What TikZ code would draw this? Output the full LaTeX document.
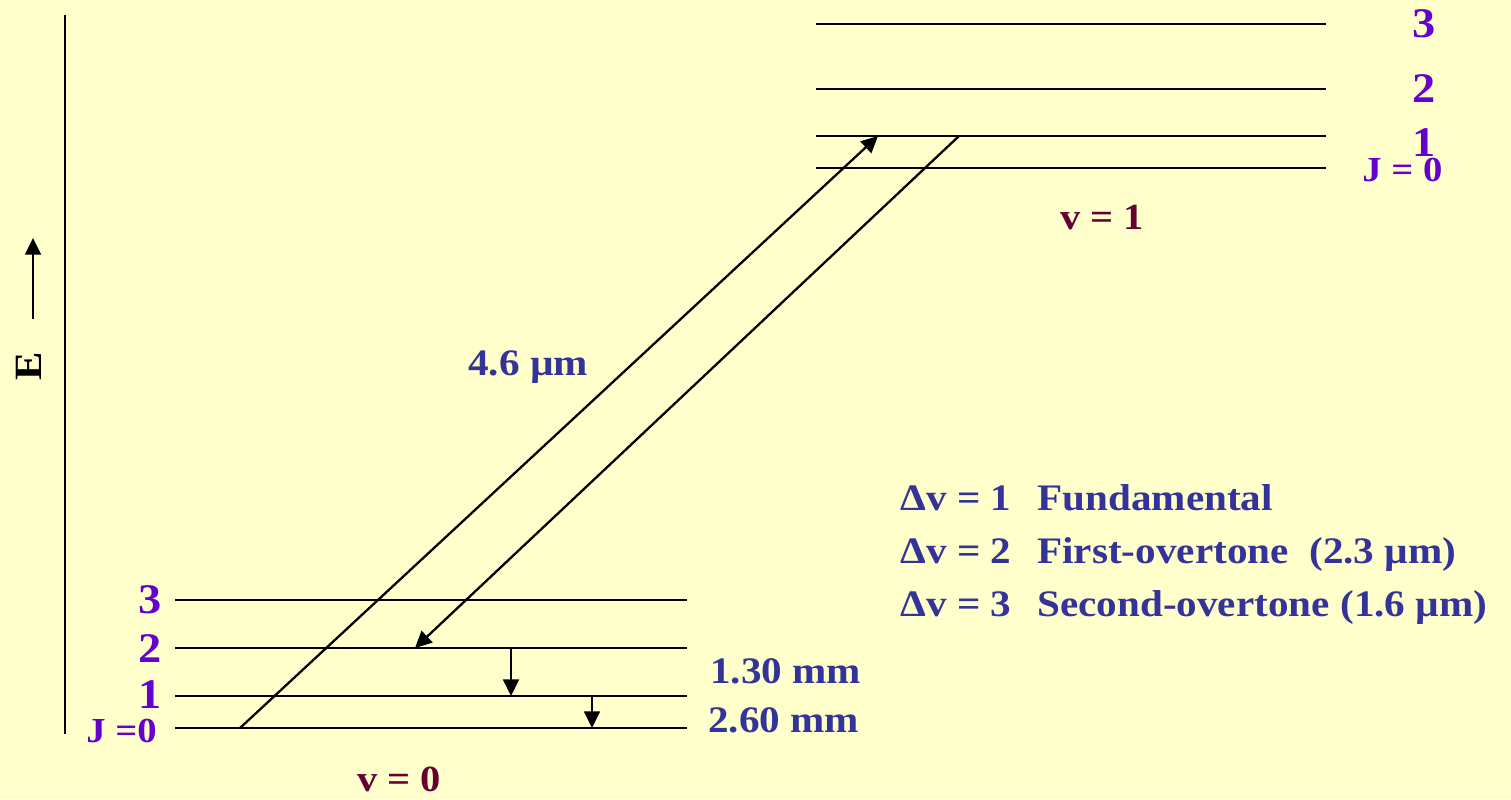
\documentclass[tikz,border=0pt]{standalone}
\usepackage{fontspec}
\setmainfont{Liberation Serif}[FakeStretch=1.1]
\usepackage{tikz}
\usetikzlibrary{arrows.meta}
\definecolor{bgc}{HTML}{FFFFCC}
\definecolor{jcol}{HTML}{6600CC}
\definecolor{wcol}{HTML}{333399}
\definecolor{vcol}{HTML}{660033}
\tikzset{
  lvl/.style={line width=1.3pt},
  arr/.style={-{Triangle[length=9.5pt,width=9pt]},line width=1.3pt},
  jn/.style={text=jcol,font=\bfseries\fontsize{24}{24}\selectfont,inner sep=0pt},
  jz/.style={text=jcol,font=\bfseries\fontsize{20}{20}\selectfont,inner sep=0pt},
  wl/.style={text=wcol,font=\bfseries\fontsize{21.3}{21.3}\selectfont,inner sep=0pt},
  vl/.style={text=vcol,font=\bfseries\fontsize{21}{21}\selectfont,inner sep=0pt},
}

\begin{document}
\begin{tikzpicture}[x=0.02cm,y=-0.02cm]
  \fill[bgc] (0,0) rectangle (1511,799);
  \useasboundingbox (0,0) rectangle (1511,799);
  % energy axis
  \draw[line width=1.3pt] (65,15) -- (65,734);
  \coordinate (eb) at (33,319);
  \coordinate (et) at (33,238);
  \draw[arr] (eb) -- (et);
  \node[font=\bfseries\fontsize{22}{22}\selectfont,rotate=90,inner sep=0pt] (en) at (29,366) {E};
  % v = 1 levels
  \draw[lvl] (816,24) -- (1326,24);
  \draw[lvl] (816,89) -- (1326,89);
  \draw[lvl] (816,136) -- (1326,136);
  \draw[lvl] (816,168) -- (1326,168);
  \node[jn,anchor=base] (u3) at (1424,37) {3};
  \node[jn,anchor=base] (u2) at (1424,102) {2};
  \node[jn,anchor=base] (u1) at (1424,156) {1};
  \node[jz,anchor=base west] (u0) at (1362,181) {J = 0};
  \node[vl,anchor=base] (v1) at (1102,229) {v = 1};
  % v = 0 levels
  \draw[lvl] (175,600) -- (687,600);
  \draw[lvl] (175,648) -- (687,648);
  \draw[lvl] (175,696) -- (687,696);
  \draw[lvl] (175,728) -- (687,728);
  \node[jn,anchor=base east] (l3) at (162,613) {3};
  \node[jn,anchor=base east] (l2) at (162,662) {2};
  \node[jn,anchor=base east] (l1) at (162,708) {1};
  \node[jz,anchor=base east] (l0) at (157,742) {J =0};
  \node[vl,anchor=base] (v0) at (399,791) {v = 0};
  % transitions
  \coordinate (a0) at (240,728);
  \coordinate (a1) at (878,136);
  \coordinate (e1) at (959,136);
  \coordinate (e0) at (415,648);
  \coordinate (r2) at (511,648);
  \coordinate (r1) at (511,696);
  \coordinate (s1) at (592,696);
  \coordinate (s0) at (592,728);
  \draw[arr] (a0) -- (a1);
  \draw[arr] (e1) -- (e0);
  \draw[arr] (r2) -- (r1);
  \draw[arr] (s1) -- (s0);
  \node[wl,anchor=base west] (ir) at (468,375) {4.6 µm};
  \node[wl,anchor=base west] (m1) at (710,683) {1.30 mm};
  \node[wl,anchor=base west] (m2) at (708,732) {2.60 mm};
  % overtone list
  \node[wl,anchor=base west] (d1) at (900,510) {\makebox[2.74cm][l]{Δv = 1}Fundamental};
  \node[wl,anchor=base west] (d2) at (900,563) {\makebox[2.74cm][l]{Δv = 2}First-overtone\ \ (2.3 µm)};
  \node[wl,anchor=base west] (d3) at (900,616) {\makebox[2.74cm][l]{Δv = 3}Second-overtone (1.6 µm)};
\end{tikzpicture}
\end{document}
